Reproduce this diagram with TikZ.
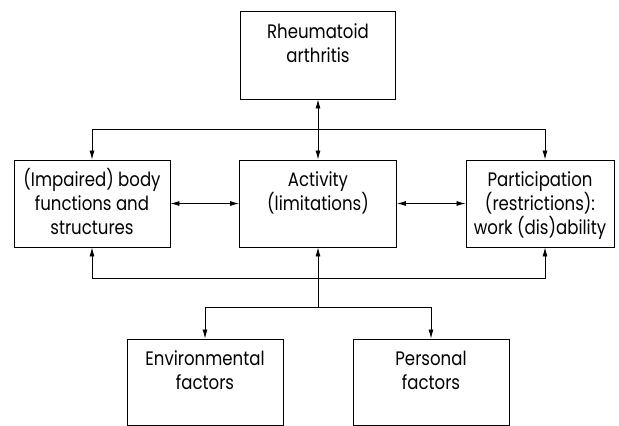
\documentclass[tikz,border=0pt]{standalone}
\usepackage{fontspec}
\setmainfont{Poppins}[FakeStretch=0.85]
\usetikzlibrary{arrows.meta}
\newcommand{\firstup}{\rule{0pt}{22pt}}
\begin{document}
\begin{tikzpicture}[x=1pt,y=-1pt,
  box/.style={draw,line width=0.9pt,minimum height=87pt,inner sep=0pt,align=center,
    font=\fontsize{19.5}{24}\selectfont},
  link/.style={line width=0.8pt,-{Latex[length=9pt,width=5pt]}},
  dlink/.style={line width=0.8pt,{Latex[length=9pt,width=5pt]}-{Latex[length=9pt,width=5pt]}}]
\useasboundingbox (0,0) rectangle (619,426);
\node[box,minimum width=155pt,minimum height=88pt] (ra) at (318,55) {\firstup Rheumatoid\\arthritis\\\strut};
\node[box,minimum width=156pt] (bf) at (92,203.5) {\firstup(Impaired) body\\functions and\\structures\strut};
\node[box,minimum width=157pt] (act) at (318,203.5) {\firstup Activity\\(limitations)\\\strut};
\node[box,minimum width=148pt] (par) at (540,203.5) {\firstup Participation\\(restrictions):\\work (dis)ability\strut};
\node[box,minimum width=156pt,minimum height=86pt] (env) at (205,382) {\firstup Environmental\\factors\\\strut};
\node[box,minimum width=156pt,minimum height=86pt] (per) at (431,382) {\firstup Personal\\factors\\\strut};
\coordinate (top) at (318,129);
\coordinate (bot) at (318,278);
\coordinate (fac) at (318,307);
\draw[dlink] (act.north) -- (ra.south);
\draw[link] (top) -| (bf.north);
\draw[link] (top) -| ([xshift=5pt]par.north);
\draw[dlink] (bf.east) -- (act.west);
\draw[dlink] (act.east) -- (par.west);
\draw[link] (fac) -- (act.south);
\draw[link] (bot) -| (bf.south);
\draw[link] (bot) -| ([xshift=5pt]par.south);
\draw[link] (fac) -| (env.north);
\draw[link] (fac) -| (per.north);
\end{tikzpicture}
\end{document}
